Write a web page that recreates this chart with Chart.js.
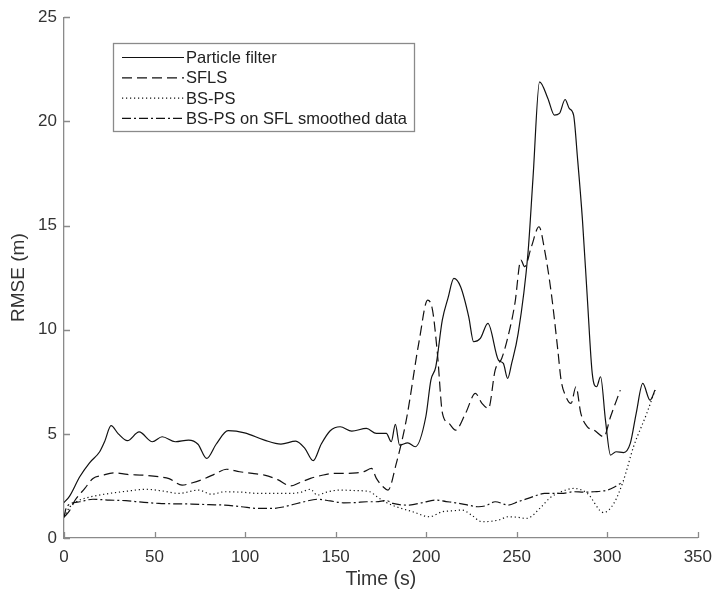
<!DOCTYPE html>
<html>
<head>
<meta charset="utf-8">
<script src="https://cdn.jsdelivr.net/npm/chart.js@4.4.1/dist/chart.umd.min.js"></script>
<style>
  html, body { margin: 0; padding: 0; background: #fff; }
  #wrap { width: 721px; height: 591px; }
</style>
</head>
<body>
<div id="wrap"><canvas id="rmseChart" width="721" height="591"></canvas></div>
<script>
// values
const xTicks = [0, 50, 100, 150, 200, 250, 300, 350];
const yTicks = [0, 5, 10, 15, 20, 25];

const pfTime = [0, 3, 8.7, 14, 19.7, 22.4, 26, 30, 35, 41.5, 48.8, 54.2, 61.5, 68.8, 74, 78.8, 84, 90.6, 99.7, 110.7, 119.8, 128, 133, 137.6, 142, 147, 152.5, 158.9, 167, 172.5, 178, 180.7, 183, 185.3, 189.8, 194, 199.8, 202.6, 205.3, 208.9, 212, 215.3, 219, 223.5, 226.2, 229.9, 234.1, 239.9, 242.6, 245, 247.2, 250.8, 256.2, 259, 262.6, 267.2, 270.8, 273.6, 276.7, 279, 281.4, 283.5, 286.3, 289, 291.7, 294.1, 296.3, 299, 301.8, 304.8, 309, 312.7, 316, 319.6, 323.6, 326.4];
const pfRmse = [1.7, 2.0, 2.94, 3.6, 4.14, 4.62, 5.39, 5.0, 4.67, 5.09, 4.62, 4.86, 4.62, 4.7, 4.5, 3.82, 4.5, 5.15, 5.05, 4.7, 4.51, 4.65, 4.3, 3.71, 4.5, 5.15, 5.34, 5.13, 5.26, 5.02, 5.02, 4.62, 5.45, 4.46, 4.57, 4.38, 5.82, 7.58, 8.22, 10.46, 11.5, 12.46, 12.06, 10.62, 9.42, 9.58, 10.3, 8.54, 8.38, 7.66, 8.38, 9.82, 13.66, 17.3, 21.9, 21.1, 20.3, 20.38, 21.05, 20.62, 20.3, 18.3, 15.26, 11.5, 7.9, 7.26, 7.74, 5.66, 3.98, 4.14, 4.1, 4.54, 6.0, 7.42, 6.62, 7.1];

const sflsTime = [0, 3, 6, 11.5, 16, 21, 27.8, 35, 43.3, 52.4, 58, 65.2, 71, 77.9, 84, 89.7, 97, 104, 110.7, 118, 125.2, 130, 136.1, 142, 148.9, 155, 161.6, 166, 169.8, 172.5, 176.2, 178.9, 183.5, 189, 196.2, 200.8, 203.5, 206.2, 209, 212.6, 216.2, 221.7, 227.2, 230.8, 234.4, 238.1, 241.7, 245, 249, 252.3, 254.4, 258.1, 262.3, 265.4, 269.1, 272.7, 274.5, 277.2, 280, 282.7, 285.4, 289, 292.7, 298.1, 301.8, 307.2];
const sflsRmse = [1.0, 1.3, 1.8, 2.38, 2.86, 3.0, 3.13, 3.05, 3.02, 2.94, 2.85, 2.54, 2.65, 2.86, 3.1, 3.3, 3.18, 3.1, 3.02, 2.8, 2.5, 2.65, 2.86, 3.0, 3.1, 3.1, 3.13, 3.2, 3.34, 2.86, 2.46, 2.3, 3.58, 5.66, 9.5, 11.42, 10.94, 8.86, 5.98, 5.5, 5.18, 5.98, 6.94, 6.46, 6.22, 8.06, 8.62, 9.6, 11.26, 13.34, 13.02, 13.98, 14.94, 13.82, 11.74, 9.02, 7.58, 6.78, 6.46, 7.26, 5.98, 5.34, 5.18, 4.86, 5.82, 7.1];

const bspsTime = [0, 3.3, 8.7, 16, 25.1, 35, 45.2, 55, 63.3, 74.3, 81.5, 88.8, 98, 107, 116, 125.2, 131, 136.1, 139.8, 145, 152.5, 160, 168.9, 172.5, 178, 183.5, 192.6, 201.7, 208.9, 214, 219.9, 225, 230.8, 239.9, 245.3, 250, 255.4, 263.6, 268, 274.5, 281.7, 289, 298, 303.6, 309, 314.5, 321.8, 326.4];
const bspsRmse = [1.0, 1.5, 1.82, 2.0, 2.14, 2.25, 2.34, 2.25, 2.14, 2.3, 2.1, 2.22, 2.2, 2.14, 2.14, 2.14, 2.2, 2.34, 2.06, 2.2, 2.3, 2.28, 2.22, 2.0, 1.7, 1.5, 1.26, 1.02, 1.26, 1.3, 1.34, 1.1, 0.78, 0.86, 1.02, 1.0, 0.94, 1.5, 1.9, 2.22, 2.38, 2.14, 1.22, 1.66, 2.78, 4.38, 5.98, 7.1];

const bsSflTime = [0, 1.5, 8.7, 16, 25, 34.2, 43, 52.4, 61, 70.6, 80, 88.8, 98, 107, 115, 121.6, 127, 132.5, 139.8, 147, 154.4, 161, 167.1, 172.5, 178, 181.6, 190.7, 198, 205.3, 211, 216.2, 222, 229, 233, 238.1, 245.3, 251, 256.3, 261, 265.4, 274.5, 281.7, 287, 292.7, 300, 304, 307.2, 309];
const bsSflRmse = [1.0, 1.5, 1.74, 1.86, 1.82, 1.79, 1.72, 1.66, 1.64, 1.63, 1.6, 1.58, 1.5, 1.42, 1.42, 1.5, 1.62, 1.74, 1.86, 1.78, 1.69, 1.7, 1.74, 1.74, 1.8, 1.66, 1.58, 1.7, 1.82, 1.75, 1.69, 1.6, 1.5, 1.55, 1.74, 1.58, 1.75, 1.9, 2.05, 2.14, 2.14, 2.22, 2.2, 2.22, 2.3, 2.45, 2.62, 2.7];

const axisGray = "#8a8a8a";
const textGray = "#333333";
const fontFamily = "'Liberation Sans', Arial, sans-serif";

function toPoints(xs, ys) {
  return xs.map((x, i) => ({ x: x, y: ys[i] }));
}

function makeLine(label, xs, ys, dash) {
  return {
    label: label,
    data: toPoints(xs, ys),
    borderColor: "#111111",
    borderWidth: 1.2,
    borderDash: dash,
    pointRadius: 0,
    fill: false,
    cubicInterpolationMode: "monotone"
  };
}

// MATLAB style: ticks point into the plot, no top/right spines
const inwardTicks = {
  id: "inwardTicks",
  afterDraw(chart) {
    const ctx = chart.ctx;
    const xs = chart.scales.x, ys = chart.scales.y;
    const area = chart.chartArea;
    ctx.save();
    ctx.strokeStyle = axisGray;
    ctx.lineWidth = 1.3;
    ctx.beginPath();
    xTicks.forEach(t => {
      const px = Math.round(xs.getPixelForValue(t)) + 0.5;
      ctx.moveTo(px, area.bottom);
      ctx.lineTo(px, area.bottom - 6);
    });
    yTicks.forEach(t => {
      const py = Math.round(ys.getPixelForValue(t)) + 0.5;
      ctx.moveTo(area.left, py);
      ctx.lineTo(area.left + 6, py);
    });
    ctx.stroke();
    ctx.restore();
  }
};

const boxedLegend = {
  id: "boxedLegend",
  afterDraw(chart) {
    const ctx = chart.ctx;
    const left = 113.5, top = 43.5, w = 301, h = 88;
    ctx.save();
    ctx.fillStyle = "#ffffff";
    ctx.fillRect(left, top, w, h);
    ctx.strokeStyle = axisGray;
    ctx.lineWidth = 1.3;
    ctx.strokeRect(left, top, w, h);
    ctx.font = "16.5px " + fontFamily;
    ctx.textBaseline = "middle";
    chart.data.datasets.forEach((ds, i) => {
      const y = 57.5 + i * 20.3;
      ctx.strokeStyle = ds.borderColor;
      ctx.lineWidth = ds.borderWidth;
      ctx.setLineDash(ds.borderDash || []);
      ctx.beginPath();
      ctx.moveTo(122, y);
      ctx.lineTo(184, y);
      ctx.stroke();
      ctx.setLineDash([]);
      ctx.fillStyle = "#222222";
      ctx.fillText(ds.label, 186, y + 1);
    });
    ctx.restore();
  }
};

const ctx = document.getElementById("rmseChart").getContext("2d");

new Chart(ctx, {
  type: "line",
  data: {
    datasets: [
      makeLine("Particle filter", pfTime, pfRmse, []),
      makeLine("SFLS", sflsTime, sflsRmse, [10, 5]),
      makeLine("BS-PS", bspsTime, bspsRmse, [1.2, 2.8]),
      makeLine("BS-PS on SFL smoothed data", bsSflTime, bsSflRmse, [9, 3, 2, 3])
    ]
  },
  options: {
    responsive: false,
    animation: false,
    layout: { padding: { top: 17, right: 16, left: 0, bottom: 0 } },
    plugins: {
      legend: { display: false },
      tooltip: { enabled: false }
    },
    scales: {
      x: {
        type: "linear",
        min: 0,
        max: 350,
        afterBuildTicks: s => { s.ticks = xTicks.map(v => ({ value: v })); },
        afterFit: s => { s.height = 53; },
        ticks: { color: textGray, padding: 9, maxRotation: 0, font: { family: fontFamily, size: 17 } },
        grid: { display: false, drawTicks: false },
        border: { color: axisGray, width: 1.3 },
        title: {
          display: true,
          text: "Time (s)",
          color: textGray,
          padding: { top: 2, bottom: 0 },
          font: { family: fontFamily, size: 19.5 }
        }
      },
      y: {
        min: 0,
        max: 25,
        afterBuildTicks: s => { s.ticks = yTicks.map(v => ({ value: v })); },
        afterFit: s => { s.width = 64; },
        ticks: { color: textGray, padding: 7, font: { family: fontFamily, size: 17 } },
        grid: { display: false, drawTicks: false },
        border: { color: axisGray, width: 1.3 },
        title: {
          display: true,
          text: "RMSE (m)",
          color: textGray,
          padding: { top: 7, bottom: 0 },
          font: { family: fontFamily, size: 19 }
        }
      }
    }
  },
  plugins: [inwardTicks, boxedLegend]
});
</script>
</body>
</html>
